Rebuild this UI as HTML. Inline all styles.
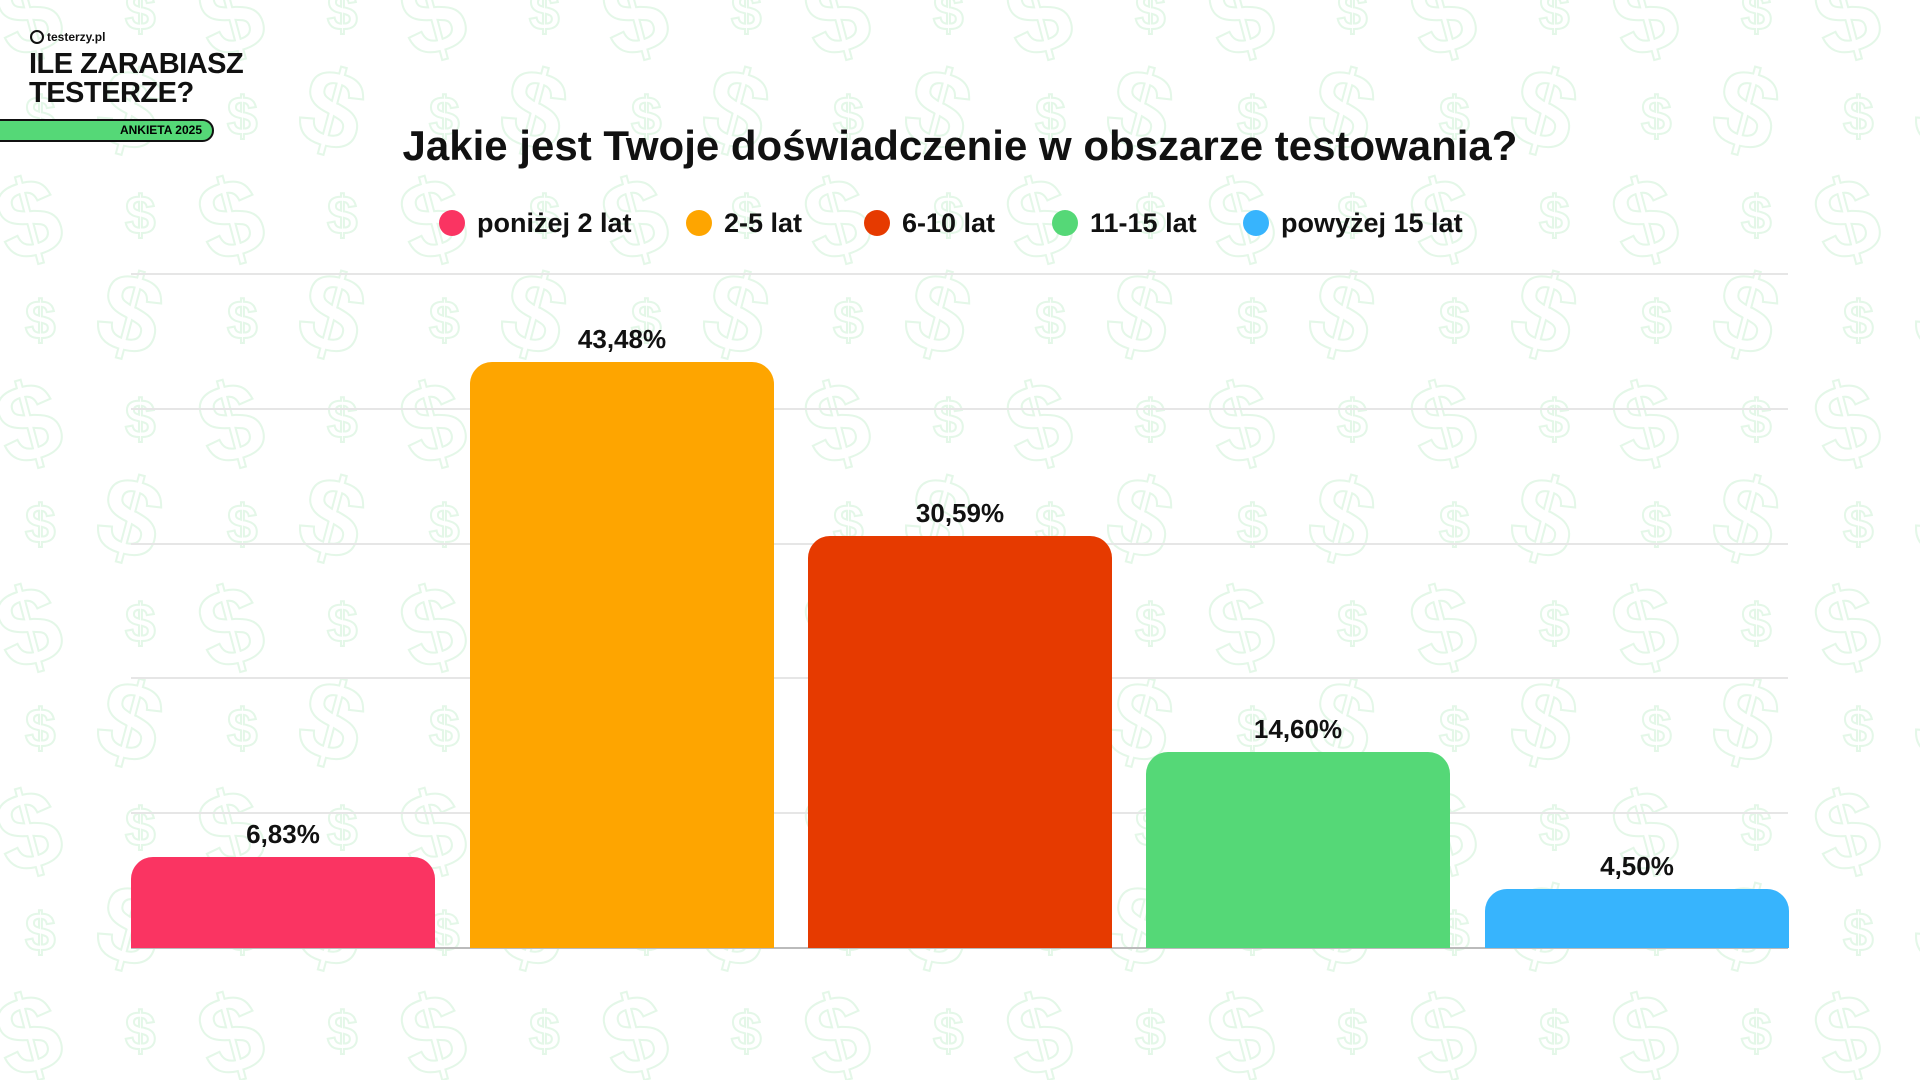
<!DOCTYPE html>
<html><head><meta charset="utf-8"><style>
body{margin:0;width:1920px;height:1080px;overflow:hidden;background:#fff;font-family:"Liberation Sans",sans-serif;position:relative}
.abs{position:absolute}
.grid{position:absolute;left:131px;width:1657px;height:2px;background:#e6e6e6}
.bar{position:absolute;width:304px;border-radius:22px 22px 0 0}
.lbl{position:absolute;width:304px;text-align:center;font-weight:bold;font-size:26px;color:#111}
.leg{position:absolute;top:208px;font-size:27px;font-weight:bold;color:#111;white-space:nowrap}
.dot{display:inline-block;width:26px;height:26px;border-radius:50%;vertical-align:-4px;margin-right:12px}
</style></head><body>
<svg class="abs" style="left:0;top:0" width="1920" height="1080">
<defs><pattern id="p" width="202" height="204" patternUnits="userSpaceOnUse" x="-10" y="-40">
<g fill="none" stroke="#e4f7e8" stroke-width="2" font-family="Liberation Sans" font-weight="bold">
<text x="10" y="90" font-size="110" transform="rotate(-15 50 60)">$</text>
<text x="135" y="70" font-size="55">$</text>
<text x="110" y="190" font-size="110" transform="rotate(15 150 150)">$</text>
<text x="35" y="175" font-size="55">$</text>
</g></pattern></defs>
<rect width="1920" height="1080" fill="url(#p)"/>
</svg>
<div class="abs" style="left:30px;top:30px;font-size:12px;font-weight:bold;color:#111"><span style="display:inline-block;width:10px;height:10px;border:2px solid #111;border-radius:50%;vertical-align:-3px;margin-right:3px"></span>testerzy.pl</div>
<div class="abs" style="left:29px;top:50px;font-size:29px;line-height:29px;font-weight:900;color:#111;letter-spacing:-0.5px">ILE ZARABIASZ<br>TESTERZE?</div>
<div class="abs" style="left:-20px;top:119px;width:230px;height:19px;background:#55d877;border:2px solid #111;border-radius:12px;font-size:12px;font-weight:bold;text-align:right;line-height:19px;box-sizing:content-box"><span style="padding-right:10px">ANKIETA 2025</span></div>
<div class="abs" style="left:0;width:1920px;top:122px;text-align:center;font-size:42px;font-weight:bold;color:#111">Jakie jest Twoje doświadczenie w obszarze testowania?</div>
<div class="leg" style="left:439px"><span class="dot" style="background:#fa3462"></span>poniżej 2 lat</div>
<div class="leg" style="left:686px"><span class="dot" style="background:#fea500"></span>2-5 lat</div>
<div class="leg" style="left:864px"><span class="dot" style="background:#e63a00"></span>6-10 lat</div>
<div class="leg" style="left:1052px"><span class="dot" style="background:#55d877"></span>11-15 lat</div>
<div class="leg" style="left:1243px"><span class="dot" style="background:#37b4fd"></span>powyżej 15 lat</div>
<div class="grid" style="top:273px"></div>
<div class="grid" style="top:408px"></div>
<div class="grid" style="top:543px"></div>
<div class="grid" style="top:677px"></div>
<div class="grid" style="top:812px"></div>
<div class="grid" style="top:947px;background:#bbb"></div>
<div class="bar" style="left:131px;top:857px;height:91px;background:#fa3462"></div>
<div class="bar" style="left:470px;top:362px;height:586px;background:#fea500"></div>
<div class="bar" style="left:808px;top:536px;height:412px;background:#e63a00"></div>
<div class="bar" style="left:1146px;top:752px;height:196px;background:#55d877"></div>
<div class="bar" style="left:1485px;top:889px;height:59px;background:#37b4fd"></div>
<div class="lbl" style="left:131px;top:819px">6,83%</div>
<div class="lbl" style="left:470px;top:324px">43,48%</div>
<div class="lbl" style="left:808px;top:498px">30,59%</div>
<div class="lbl" style="left:1146px;top:714px">14,60%</div>
<div class="lbl" style="left:1485px;top:851px">4,50%</div>
</body></html>
